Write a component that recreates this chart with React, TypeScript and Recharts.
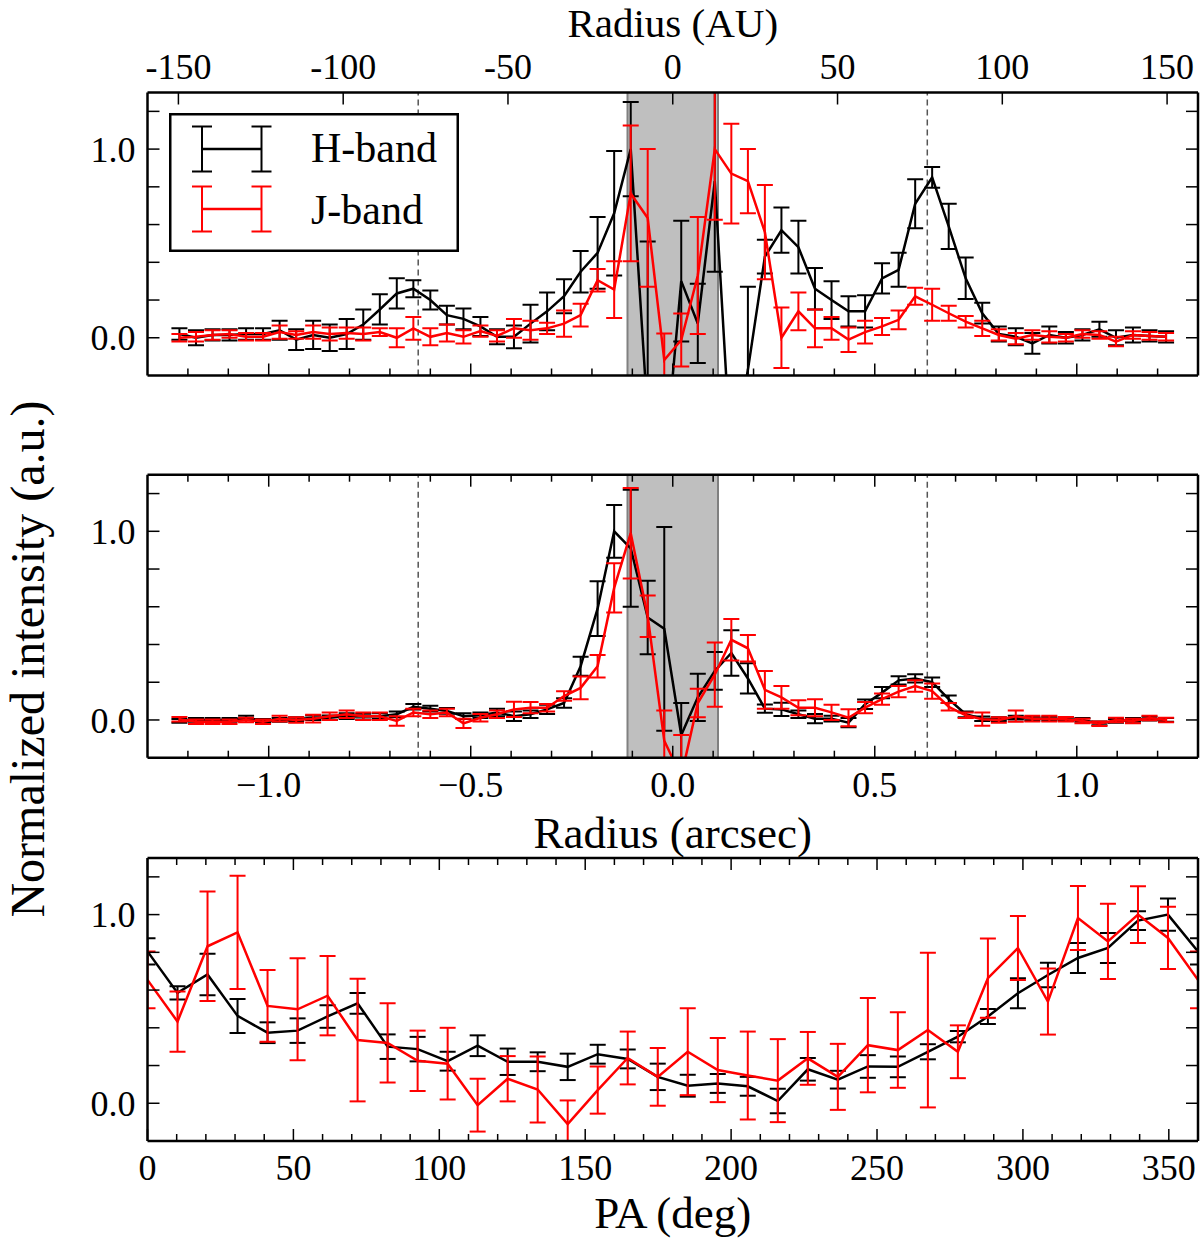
import { LineChart, Line, XAxis, YAxis, ErrorBar, ReferenceArea, ReferenceLine, Legend } from 'recharts';

const SERIF = '"Liberation Serif", "DejaVu Serif", serif';
const RED = '#ff0000';

// sample radii of the two radial cuts (arcsec)
const RADIUS = [
  -1.221, -1.18, -1.139, -1.097, -1.056, -1.014, -0.973, -0.932, -0.89, -0.849,
  -0.807, -0.766, -0.725, -0.683, -0.642, -0.6, -0.559, -0.518, -0.476, -0.435,
  -0.393, -0.352, -0.311, -0.269, -0.228, -0.186, -0.145, -0.104, -0.062, -0.021,
  0.021, 0.062, 0.104, 0.145, 0.186, 0.228, 0.269, 0.311, 0.352, 0.393,
  0.435, 0.476, 0.518, 0.559, 0.6, 0.642, 0.683, 0.725, 0.766, 0.807,
  0.849, 0.89, 0.932, 0.973, 1.014, 1.056, 1.097, 1.139, 1.18, 1.221,
];

// top panel cut
const CUT1_H = [
  0.02, 0.0, 0.015, 0.015, 0.02, 0.02, 0.04, -0.01, 0.015, 0.0,
  0.02, 0.07, 0.15, 0.235, 0.26, 0.2, 0.12, 0.1, 0.06, 0.005,
  0.005, 0.075, 0.14, 0.22, 0.35, 0.45, 0.66, 1.0, -0.42, -0.7,
  0.3, 0.076, 0.83, -0.67, -0.17, 0.43, 0.57, 0.48, 0.26, 0.2,
  0.14, 0.14, 0.315, 0.36, 0.71, 0.85, 0.59, 0.315, 0.13, 0.02,
  0.005, -0.03, 0.015, 0.0, 0.015, 0.045, 0.0, 0.015, 0.01, 0.005,
];
const CUT1_H_ERR = [
  0.03, 0.04, 0.03, 0.03, 0.03, 0.03, 0.05, 0.055, 0.075, 0.07,
  0.08, 0.08, 0.08, 0.08, 0.045, 0.05, 0.05, 0.055, 0.05, 0.04,
  0.06, 0.1, 0.1, 0.09, 0.11, 0.19, 0.33, 0.25, 0.93, 0.3,
  0.32, 0.21, 0.48, 0.3, 0.44, 0.09, 0.12, 0.14, 0.11, 0.1,
  0.08, 0.085, 0.08, 0.09, 0.13, 0.055, 0.12, 0.11, 0.055, 0.04,
  0.045, 0.055, 0.045, 0.03, 0.03, 0.04, 0.04, 0.04, 0.03, 0.03,
];
const CUT1_J = [
  0.0, 0.005, 0.015, 0.02, 0.005, 0.005, 0.03, 0.015, 0.03, 0.02,
  0.025, 0.02, 0.03, 0.0, 0.05, 0.005, 0.025, 0.005, 0.035, 0.01,
  0.05, 0.04, 0.05, 0.075, 0.12, 0.305, 0.255, 0.765, 0.635, -0.118,
  -0.012, 0.33, 1.0, 0.87, 0.83, 0.56, 0.0, 0.14, 0.05, 0.05,
  -0.01, 0.03, 0.06, 0.095, 0.22, 0.175, 0.13, 0.085, 0.05, 0.015,
  -0.005, 0.015, 0.005, 0.0, 0.02, 0.015, -0.02, 0.015, 0.01, 0.005,
];
const CUT1_J_ERR = [
  0.02, 0.025, 0.025, 0.02, 0.02, 0.02, 0.035, 0.02, 0.035, 0.035,
  0.03, 0.035, 0.02, 0.05, 0.06, 0.045, 0.045, 0.035, 0.03, 0.03,
  0.05, 0.05, 0.03, 0.07, 0.06, 0.06, 0.15, 0.36, 0.365, 0.14,
  0.14, 0.31, 0.375, 0.265, 0.17, 0.25, 0.16, 0.1, 0.1, 0.06,
  0.065, 0.06, 0.045, 0.05, 0.045, 0.085, 0.04, 0.03, 0.04, 0.03,
  0.03, 0.025, 0.03, 0.02, 0.02, 0.02, 0.025, 0.02, 0.02, 0.02,
];

// middle panel cut
const CUT2_H = [
  -0.005, 0.0, 0.0, 0.0, 0.012, -0.005, 0.0, 0.004, 0.012, 0.012,
  0.02, 0.018, 0.02, 0.03, 0.07, 0.06, 0.048, 0.02, 0.025, 0.04,
  0.02, 0.03, 0.056, 0.09, 0.285, 0.59, 1.0, 0.91, 0.543, 0.483,
  -0.08, 0.12, 0.26, 0.355, 0.22, 0.06, 0.056, 0.03, 0.007, 0.007,
  -0.014, 0.083, 0.145, 0.21, 0.22, 0.2, 0.11, 0.03, 0.007, 0.004,
  0.012, 0.007, 0.007, 0.004, 0.0, -0.018, -0.005, 0.0, 0.007, 0.0,
];
const CUT2_H_ERR = [
  0.01, 0.01, 0.01, 0.01, 0.01, 0.01, 0.01, 0.01, 0.012, 0.012,
  0.015, 0.015, 0.015, 0.015, 0.015, 0.015, 0.015, 0.015, 0.015, 0.02,
  0.025, 0.02, 0.025, 0.025, 0.05, 0.145, 0.14, 0.31, 0.195, 0.54,
  0.17, 0.125, 0.1, 0.12, 0.08, 0.022, 0.035, 0.02, 0.025, 0.015,
  0.025, 0.025, 0.03, 0.022, 0.022, 0.025, 0.02, 0.015, 0.012, 0.01,
  0.01, 0.01, 0.01, 0.01, 0.01, 0.01, 0.01, 0.01, 0.01, 0.01,
];
const CUT2_J = [
  0.004, -0.01, -0.01, -0.01, 0.0, -0.01, 0.007, 0.0, 0.007, 0.02,
  0.03, 0.02, 0.02, -0.005, 0.04, 0.03, 0.04, -0.018, 0.012, 0.03,
  0.056, 0.065, 0.065, 0.127, 0.17, 0.285, 0.7, 0.99, 0.55, -0.11,
  -0.3, 0.09, 0.24, 0.425, 0.38, 0.16, 0.12, 0.065, 0.065, 0.04,
  0.012, 0.065, 0.11, 0.15, 0.18, 0.153, 0.07, 0.025, 0.004, 0.0,
  0.02, 0.007, 0.007, 0.004, -0.005, -0.02, 0.0, -0.005, 0.01, 0.0,
];
const CUT2_J_ERR = [
  0.012, 0.012, 0.012, 0.012, 0.012, 0.012, 0.015, 0.015, 0.02, 0.02,
  0.02, 0.02, 0.02, 0.025, 0.02, 0.02, 0.02, 0.025, 0.02, 0.02,
  0.04, 0.03, 0.02, 0.025, 0.06, 0.06, 0.13, 0.24, 0.11, 0.16,
  0.22, 0.075, 0.17, 0.11, 0.07, 0.1, 0.06, 0.04, 0.045, 0.04,
  0.045, 0.03, 0.03, 0.03, 0.03, 0.04, 0.02, 0.015, 0.035, 0.015,
  0.03, 0.015, 0.015, 0.012, 0.012, 0.012, 0.012, 0.012, 0.012, 0.012,
];

// azimuthal profile (position angle, deg)
const PA = [
  0, 10.29, 20.57, 30.86, 41.14, 51.43, 61.71, 72, 82.29, 92.57,
  102.86, 113.14, 123.43, 133.71, 144, 154.29, 164.57, 174.86, 185.14, 195.43,
  205.71, 216, 226.29, 236.57, 246.86, 257.14, 267.43, 277.71, 288, 298.29,
  308.57, 318.86, 329.14, 339.43, 349.71, 360,
];
const PA_H = [
  0.805, 0.585, 0.683, 0.463, 0.374, 0.385, 0.46, 0.53, 0.3, 0.287,
  0.223, 0.305, 0.22, 0.22, 0.193, 0.26, 0.235, 0.14, 0.093, 0.105,
  0.09, 0.012, 0.18, 0.125, 0.195, 0.193, 0.273, 0.353, 0.46, 0.583,
  0.68, 0.77, 0.823, 0.968, 1.0, 0.805,
];
const PA_H_ERR = [
  0.07, 0.035, 0.11, 0.09, 0.055, 0.065, 0.06, 0.055, 0.065, 0.065,
  0.05, 0.055, 0.07, 0.05, 0.07, 0.05, 0.05, 0.07, 0.058, 0.05,
  0.05, 0.065, 0.06, 0.047, 0.06, 0.055, 0.04, 0.03, 0.04, 0.08,
  0.065, 0.08, 0.08, 0.05, 0.085, 0.07,
];
const PA_J = [
  0.654, 0.433, 0.832, 0.906, 0.516, 0.498, 0.57, 0.335, 0.32, 0.225,
  0.21, -0.01, 0.13, 0.073, -0.11, 0.07, 0.24, 0.14, 0.273, 0.176,
  0.147, 0.12, 0.238, 0.14, 0.308, 0.282, 0.388, 0.273, 0.663, 0.823,
  0.539, 0.982, 0.858, 1.0, 0.876, 0.654,
];
const PA_J_ERR = [
  0.15, 0.16, 0.29, 0.3, 0.19, 0.27, 0.21, 0.325, 0.21, 0.16,
  0.19, 0.14, 0.12, 0.175, 0.125, 0.125, 0.14, 0.153, 0.23, 0.17,
  0.233, 0.22, 0.14, 0.175, 0.25, 0.2, 0.41, 0.14, 0.21, 0.17,
  0.175, 0.17, 0.2, 0.15, 0.165, 0.15,
];

// axes
const ARCSEC_DOMAIN = [-1.3, 1.3];
const Y_DOMAIN = [-0.2, 1.3];
const AU_PER_ARCSEC = 122.6;
const ARCSEC_TICKS = [
  -1.2, -1.1, -1.0, -0.9, -0.8, -0.7, -0.6, -0.5, -0.4, -0.3, -0.2, -0.1, 0,
  0.1, 0.2, 0.3, 0.4, 0.5, 0.6, 0.7, 0.8, 0.9, 1.0, 1.1, 1.2,
];
const AU_TICKS = [-150, -100, -50, 0, 50, 100, 150];
const PA_TICKS = [
  0, 10, 20, 30, 40, 50, 60, 70, 80, 90, 100, 110, 120, 130, 140, 150, 160, 170, 180,
  190, 200, 210, 220, 230, 240, 250, 260, 270, 280, 290, 300, 310, 320, 330, 340, 350, 360,
];
const Y_TICKS = [0, 0.2, 0.4, 0.6, 0.8, 1.0, 1.2];
const RING_R = 0.63;
const MASK_R = 0.112;

const cut1 = RADIUS.map((x, i) => ({ x, h: CUT1_H[i], he: CUT1_H_ERR[i], j: CUT1_J[i], je: CUT1_J_ERR[i] }));
const cut2 = RADIUS.map((x, i) => ({ x, h: CUT2_H[i], he: CUT2_H_ERR[i], j: CUT2_J[i], je: CUT2_J_ERR[i] }));
const azim = PA.map((x, i) => ({ x, h: PA_H[i], he: PA_H_ERR[i], j: PA_J[i], je: PA_J_ERR[i] }));

// AU ticks placed on the arcsec scale of the same axis
const AU_TICKS_ARCSEC = AU_TICKS.map((a) => a / AU_PER_ARCSEC);

type Side = 'bottom' | 'top' | 'left' | 'right';

const halfStep = (v: number) => Math.abs(v * 2 - Math.round(v * 2)) < 1e-6;
const arcsecLabel = (v: number) => (halfStep(v) ? (v < 0 ? '\u2212' : '') + Math.abs(v).toFixed(1) : null);
const auLabel = (v: number) => String(Math.round(v * AU_PER_ARCSEC));
const paMajor = (v: number) => v % 50 === 0;
const paLabel = (v: number) => (v % 50 === 0 && v < 360 ? String(v) : null);
const yLabel = (v: number) => (v === 0 || v === 1 ? v.toFixed(1) : null);
const always = () => true;

// inward pointing ticks, matplotlib style
function tickMark(side: Side, label: ((v: number) => string | null) | null, major: (v: number) => boolean) {
  return (props: any) => {
    const { x, y, payload } = props;
    const v = payload.value as number;
    const len = major(v) ? 12 : 7;
    const text = label ? label(v) : null;
    const t = { fill: '#000', fontSize: 36, fontFamily: SERIF };
    let mark;
    let txt = null;
    if (side === 'bottom') {
      mark = <line x1={x} y1={y} x2={x} y2={y - len} stroke="#000" strokeWidth={1.5} />;
      if (text) txt = <text x={x} y={y + 39} textAnchor="middle" {...t}>{text}</text>;
    } else if (side === 'top') {
      mark = <line x1={x} y1={y} x2={x} y2={y + len} stroke="#000" strokeWidth={1.5} />;
      if (text) txt = <text x={x} y={y - 14} textAnchor="middle" {...t}>{text}</text>;
    } else if (side === 'left') {
      mark = <line x1={x} y1={y} x2={x + len} y2={y} stroke="#000" strokeWidth={1.5} />;
      if (text) txt = <text x={x - 12} y={y} dy="0.35em" textAnchor="end" {...t}>{text}</text>;
    } else {
      mark = <line x1={x} y1={y} x2={x - len} y2={y} stroke="#000" strokeWidth={1.5} />;
    }
    return <g>{mark}{txt}</g>;
  };
}

const spine = { stroke: '#000', strokeWidth: 2.5 };

const axisTitle = (text: string, baseline: number, size = 45) => () => (
  <text x={672.75} y={baseline} textAnchor="middle" fill="#000" fontSize={size} fontFamily={SERIF}>{text}</text>
);

function LegendBox() {
  const glyph = (cy: number, color: string) => (
    <g stroke={color} strokeWidth={2}>
      <line x1={33} y1={cy} x2={92.5} y2={cy} strokeWidth={2.5} />
      <line x1={33} y1={cy - 22.5} x2={33} y2={cy + 22.5} />
      <line x1={92.5} y1={cy - 22.5} x2={92.5} y2={cy + 22.5} />
      <line x1={23} y1={cy - 22.5} x2={43} y2={cy - 22.5} />
      <line x1={23} y1={cy + 22.5} x2={43} y2={cy + 22.5} />
      <line x1={82.5} y1={cy - 22.5} x2={102.5} y2={cy - 22.5} />
      <line x1={82.5} y1={cy + 22.5} x2={102.5} y2={cy + 22.5} />
    </g>
  );
  return (
    <svg width={290} height={139} style={{ display: 'block' }}>
      <rect x={1.25} y={1.25} width={287.5} height={136.5} fill="#fff" stroke="#000" strokeWidth={2.5} />
      {glyph(36, '#000')}
      {glyph(96, RED)}
      <text x={142} y={49} fontSize={42} fontFamily={SERIF} fill="#000">H-band</text>
      <text x={142} y={111} fontSize={42} fontFamily={SERIF} fill="#000">J-band</text>
    </svg>
  );
}

function RadialPanel(props: {
  data: typeof cut1;
  height: number;
  topHeight: number;
  bottomHeight: number;
  clipId: string;
  variant: 'upper' | 'lower';
}) {
  const { data, height, topHeight, bottomHeight, clipId, variant } = props;
  const upper = variant === 'upper';
  const clip = `url(#${clipId})`;
  return (
    <LineChart width={1200} height={height} data={data} margin={{ top: 0, right: 0, bottom: 0, left: 0 }}>
      <XAxis
        xAxisId="b"
        type="number"
        dataKey="x"
        domain={ARCSEC_DOMAIN}
        ticks={ARCSEC_TICKS}
        interval={0}
        allowDataOverflow
        height={bottomHeight}
        tickSize={0}
        tickMargin={0}
        tickLine={false}
        axisLine={spine}
        tick={tickMark('bottom', upper ? null : arcsecLabel, halfStep)}
        label={upper ? undefined : axisTitle('Radius (arcsec)', 428)}
      />
      <XAxis
        xAxisId="t"
        orientation="top"
        type="number"
        dataKey="x"
        domain={ARCSEC_DOMAIN}
        ticks={upper ? AU_TICKS_ARCSEC : ARCSEC_TICKS}
        interval={0}
        allowDataOverflow
        height={topHeight}
        tickSize={0}
        tickMargin={0}
        tickLine={false}
        axisLine={spine}
        tick={upper ? tickMark('top', auLabel, always) : tickMark('top', null, halfStep)}
        label={upper ? axisTitle('Radius (AU)', 37, 41) : undefined}
      />
      <YAxis
        yAxisId="l"
        type="number"
        domain={Y_DOMAIN}
        ticks={Y_TICKS}
        interval={0}
        allowDataOverflow
        width={147.5}
        tickSize={0}
        tickMargin={0}
        tickLine={false}
        axisLine={spine}
        tick={tickMark('left', yLabel, always)}
      />
      <YAxis
        yAxisId="r"
        orientation="right"
        type="number"
        domain={Y_DOMAIN}
        ticks={Y_TICKS}
        interval={0}
        allowDataOverflow
        width={2}
        tickSize={0}
        tickMargin={0}
        tickLine={false}
        axisLine={spine}
        tick={tickMark('right', null, always)}
      />
      <ReferenceArea xAxisId="b" yAxisId="l" x1={-MASK_R} x2={MASK_R} fill="#bfbfbf" fillOpacity={1} stroke="none" />
      <ReferenceLine xAxisId="b" yAxisId="l" x={-MASK_R} stroke="#808080" strokeWidth={2} />
      <ReferenceLine xAxisId="b" yAxisId="l" x={MASK_R} stroke="#808080" strokeWidth={2} />
      <ReferenceLine xAxisId="b" yAxisId="l" x={-RING_R} stroke="#555" strokeWidth={1.5} strokeDasharray="6 4" />
      <ReferenceLine xAxisId="b" yAxisId="l" x={RING_R} stroke="#555" strokeWidth={1.5} strokeDasharray="6 4" />
      <Line xAxisId="b" yAxisId="l" dataKey="h" stroke="#000" strokeWidth={2.5} dot={false} activeDot={false} isAnimationActive={false}>
        <ErrorBar dataKey="he" direction="y" width={8} stroke="#000" strokeWidth={2} clipPath={clip} isAnimationActive={false} />
      </Line>
      <Line xAxisId="b" yAxisId="l" dataKey="j" stroke={RED} strokeWidth={2.5} dot={false} activeDot={false} isAnimationActive={false}>
        <ErrorBar dataKey="je" direction="y" width={8} stroke={RED} strokeWidth={2} clipPath={clip} isAnimationActive={false} />
      </Line>
      {upper ? (
        <Legend
          layout="horizontal"
          verticalAlign="middle"
          align="center"
          content={() => <LegendBox />}
          wrapperStyle={{ left: 169, top: 113, width: 290, height: 139 }}
        />
      ) : null}
    </LineChart>
  );
}

function AzimuthPanel() {
  const clip = 'url(#clip-azim)';
  return (
    <LineChart width={1200} height={405} data={azim} margin={{ top: 0, right: 0, bottom: 0, left: 0 }}>
      <XAxis
        xAxisId="b"
        type="number"
        dataKey="x"
        domain={[0, 360]}
        ticks={PA_TICKS}
        interval={0}
        allowDataOverflow
        height={104}
        tickSize={0}
        tickMargin={0}
        tickLine={false}
        axisLine={spine}
        tick={tickMark('bottom', paLabel, paMajor)}
        label={axisTitle('PA (deg)', 388)}
      />
      <XAxis
        xAxisId="t"
        orientation="top"
        type="number"
        dataKey="x"
        domain={[0, 360]}
        ticks={PA_TICKS}
        interval={0}
        allowDataOverflow
        height={18}
        tickSize={0}
        tickMargin={0}
        tickLine={false}
        axisLine={spine}
        tick={tickMark('top', null, paMajor)}
      />
      <YAxis
        yAxisId="l"
        type="number"
        domain={Y_DOMAIN}
        ticks={Y_TICKS}
        interval={0}
        allowDataOverflow
        width={147.5}
        tickSize={0}
        tickMargin={0}
        tickLine={false}
        axisLine={spine}
        tick={tickMark('left', yLabel, always)}
      />
      <YAxis
        yAxisId="r"
        orientation="right"
        type="number"
        domain={Y_DOMAIN}
        ticks={Y_TICKS}
        interval={0}
        allowDataOverflow
        width={2}
        tickSize={0}
        tickMargin={0}
        tickLine={false}
        axisLine={spine}
        tick={tickMark('right', null, always)}
      />
      <Line xAxisId="b" yAxisId="l" dataKey="h" stroke="#000" strokeWidth={2.5} dot={false} activeDot={false} isAnimationActive={false}>
        <ErrorBar dataKey="he" direction="y" width={8} stroke="#000" strokeWidth={2} clipPath={clip} isAnimationActive={false} />
      </Line>
      <Line xAxisId="b" yAxisId="l" dataKey="j" stroke={RED} strokeWidth={2.5} dot={false} activeDot={false} isAnimationActive={false}>
        <ErrorBar dataKey="je" direction="y" width={8} stroke={RED} strokeWidth={2} clipPath={clip} isAnimationActive={false} />
      </Line>
    </LineChart>
  );
}

export default function App() {
  return (
    <div style={{ position: 'absolute', left: 0, top: 0, width: 1200, height: 1245, background: '#fff', overflow: 'hidden' }}>
      {/* plot-area clip rectangles, in each chart's own coordinates */}
      <svg width={0} height={0} style={{ position: 'absolute' }}>
        <defs>
          <clipPath id="clip-cut1">
            <rect x={147.5} y={92.5} width={1050.5} height={283} />
          </clipPath>
          <clipPath id="clip-cut2">
            <rect x={147.5} y={54.7} width={1050.5} height={283} />
          </clipPath>
          <clipPath id="clip-azim">
            <rect x={147.5} y={18} width={1050.5} height={283} />
          </clipPath>
        </defs>
      </svg>
      <div style={{ position: 'absolute', left: 0, top: 0 }}>
        <RadialPanel data={cut1} height={400} topHeight={92.5} bottomHeight={24.5} clipId="clip-cut1" variant="upper" />
      </div>
      <div style={{ position: 'absolute', left: 0, top: 420 }}>
        <RadialPanel data={cut2} height={440} topHeight={54.7} bottomHeight={102.3} clipId="clip-cut2" variant="lower" />
      </div>
      <div style={{ position: 'absolute', left: 0, top: 840 }}>
        <AzimuthPanel />
      </div>
      <div
        style={{
          position: 'absolute',
          left: 28,
          top: 659,
          transform: 'translate(-50%, -50%) rotate(-90deg)',
          whiteSpace: 'nowrap',
          fontFamily: SERIF,
          fontSize: 48,
          lineHeight: 1,
          color: '#000',
        }}
      >
        Normalized intensity (a.u.)
      </div>
    </div>
  );
}
